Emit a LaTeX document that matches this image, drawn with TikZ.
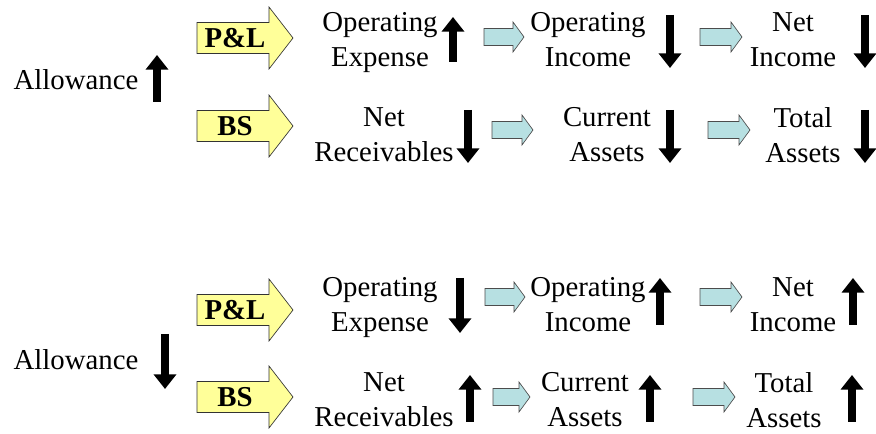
\documentclass[tikz,border=0pt]{standalone}
\usepackage{fontspec}
\setmainfont{Liberation Serif}
\usetikzlibrary{arrows.meta}

\definecolor{stmtyellow}{RGB}{255,255,153}
\definecolor{flowcyan}{RGB}{183,224,226}

\tikzset{
  acct/.style={align=center,inner sep=0pt,yshift=-3.75pt,font=\fontsize{21.6}{26.2}\selectfont,
    execute at begin node=\strut,execute at end node=\strut},
  trend/.style={line width=6pt,-{Triangle[width=16.5pt,length=11pt]}},
  stmt/.style={fill=stmtyellow,draw=black!80,line width=0.5pt},
  flow/.style={fill=flowcyan,draw=black!70,line width=0.5pt},
}

% block arrow: style, x start, x tip, y, half body, half head, head length
\newcommand{\blockarrow}[7]{%
  \filldraw[#1] (#2,#4-#5) -- (#3-#7,#4-#5) -- (#3-#7,#4-#6) -- (#3,#4)
    -- (#3-#7,#4+#6) -- (#3-#7,#4+#5) -- (#2,#4+#5) -- cycle;}

\begin{document}
\begin{tikzpicture}[x=0.75pt,y=-0.75pt]
\useasboundingbox (0,0) rectangle (876,434);

%% allowance up
\node[acct] (allowA) at (76,78) {Allowance};
\draw[trend] (157,102) -- (157,55);

\blockarrow{stmt}{197}{293}{38}{15.5}{31}{24}
\node[acct,font=\fontsize{21.6}{26.2}\selectfont\bfseries] (plA) at (235,36) {P\&L};
\blockarrow{stmt}{197}{293}{126}{15.5}{31}{24}
\node[acct,font=\fontsize{21.6}{26.2}\selectfont\bfseries] (bsA) at (235,124) {BS};

\node[acct] (opexA) at (380,40) {Operating\\Expense};
\draw[trend] (453,62) -- (453,17);
\blockarrow{flow}{484}{524}{37}{8.5}{15}{11}
\node[acct] (opincA) at (588,40) {Operating\\Income};
\draw[trend] (670,15) -- (670,68);
\blockarrow{flow}{700}{742}{37}{8.5}{15}{11}
\node[acct] (netincA) at (793,40) {Net\\Income};
\draw[trend] (865,15) -- (865,68);

\node[acct] (netrecA) at (384,135) {Net\\Receivables};
\draw[trend] (468,110) -- (468,163);
\blockarrow{flow}{492}{533}{130}{8.5}{15}{11}
\node[acct] (curA) at (607,135) {Current\\Assets};
\draw[trend] (670,110) -- (670,163);
\blockarrow{flow}{708}{750}{130}{8.5}{15}{11}
\node[acct] (totA) at (803,135) {Total\\Assets};
\draw[trend] (865,110) -- (865,163);

%% allowance down
\node[acct] (allowB) at (76,358) {Allowance};
\draw[trend] (165,334) -- (165,389);

\blockarrow{stmt}{197}{293}{310}{15.5}{31}{24}
\node[acct,font=\fontsize{21.6}{26.2}\selectfont\bfseries] (plB) at (235,308) {P\&L};
\blockarrow{stmt}{197}{293}{397}{15.5}{31}{24}
\node[acct,font=\fontsize{21.6}{26.2}\selectfont\bfseries] (bsB) at (235,395) {BS};

\node[acct] (opexB) at (380,305) {Operating\\Expense};
\draw[trend] (460,278) -- (460,333);
\blockarrow{flow}{485}{525}{297}{8.5}{15}{11}
\node[acct] (opincB) at (588,305) {Operating\\Income};
\draw[trend] (660,325) -- (660,278);
\blockarrow{flow}{700}{742}{297}{8.5}{15}{11}
\node[acct] (netincB) at (793,305) {Net\\Income};
\draw[trend] (853,325) -- (853,278);

\node[acct] (netrecB) at (384,400) {Net\\Receivables};
\draw[trend] (470,422) -- (470,375);
\blockarrow{flow}{493}{530}{397}{8.5}{15}{11}
\node[acct] (curB) at (585,400) {Current\\Assets};
\draw[trend] (650,422) -- (650,375);
\blockarrow{flow}{693}{735}{397}{8.5}{15}{11}
\node[acct] (totB) at (784,400) {Total\\Assets};
\draw[trend] (852,422) -- (852,375);

\end{tikzpicture}
\end{document}
